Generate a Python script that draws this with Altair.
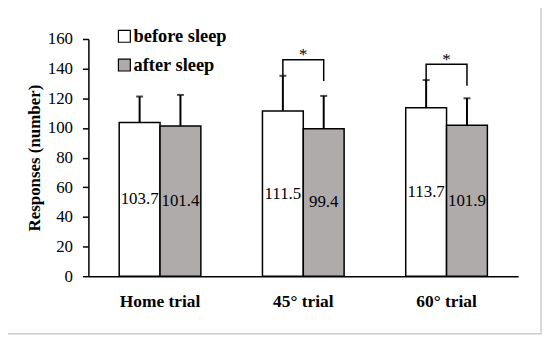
import altair as alt
import pandas as pd

trials = ["Home trial", "45° trial", "60° trial"]
groups = ["before sleep", "after sleep"]
before_means = [103.7, 111.5, 113.7]
after_means = [101.4, 99.4, 101.9]
before_sd = [17.5, 23.7, 18.6]
after_sd = [20.9, 22.2, 18.1]
y_ticks = [0, 20, 40, 60, 80, 100, 120, 140, 160]

# significance brackets (45° and 60° trials)
sig_trials = ["45° trial", "60° trial"]
sig_top = [146.0, 143.0]
sig_right_bottom = [131.7, 128.5]
sig_star = [149.0, 146.0]

rows = []
for i, t in enumerate(trials):
    rows.append({"trial": t, "group": groups[0], "mean": before_means[i],
                 "upper": before_means[i] + before_sd[i], "label": f"{before_means[i]:.1f}"})
    rows.append({"trial": t, "group": groups[1], "mean": after_means[i],
                 "upper": after_means[i] + after_sd[i], "label": f"{after_means[i]:.1f}"})
df = pd.DataFrame(rows)
df["half"] = df["mean"] / 2

brows = []
stars = []
for j, t in enumerate(sig_trials):
    i = trials.index(t)
    left_bottom = before_means[i] + before_sd[i]
    pts = [(groups[0], left_bottom), (groups[0], sig_top[j]),
           (groups[1], sig_top[j]), (groups[1], sig_right_bottom[j])]
    for k, (g, v) in enumerate(pts):
        brows.append({"trial": t, "group": g, "y": v, "ord": k, "id": t})
    stars.append({"trial": t, "y": sig_star[j], "s": "*"})
bdf = pd.DataFrame(brows)
sdf = pd.DataFrame(stars)

FONT = "Liberation Serif"

xscale = alt.Scale(domain=trials, paddingInner=0.43, paddingOuter=0.215)
xoff = alt.Scale(domain=groups, paddingInner=0, paddingOuter=0)
yscale = alt.Scale(domain=[0, 160], nice=False)

yaxis = alt.Axis(title="Responses (number)", values=y_ticks, labelOverlap=False,
                 grid=False, tickSize=6, tickColor="black", tickWidth=1.5,
                 domainColor="black", domainWidth=1.5, labelPadding=10,
                 labelFont=FONT, labelFontSize=17, labelColor="black",
                 titleFont=FONT, titleFontSize=17, titleFontWeight="bold",
                 titleColor="black", titleX=-54, titleY=119.5,
                 titleBaseline="middle", titleAngle=-90)
xaxis = alt.Axis(title=None, labelAngle=0, ticks=False, tickSize=0,
                 labelPadding=17, labelFont=FONT, labelFontWeight="bold",
                 labelFontSize=17.5, labelColor="black", domainColor="black",
                 domainWidth=1.5)


def X():
    return alt.X("trial:N", scale=xscale, sort=trials, axis=xaxis)


def XO():
    return alt.XOffset("group:N", scale=xoff, sort=groups)


def Y(field):
    return alt.Y(field, scale=yscale, axis=yaxis)


base = alt.Chart(df)

bars = base.mark_bar(stroke="black", strokeWidth=1.5).encode(
    x=X(), xOffset=XO(), y=Y("mean:Q"),
    color=alt.Color("group:N", sort=groups,
                    scale=alt.Scale(domain=groups, range=["#ffffff", "#afabab"]),
                    legend=alt.Legend(title=None, orient="none", legendX=27, legendY=-12,
                                      symbolType="square", symbolSize=144,
                                      symbolStrokeColor="black", symbolStrokeWidth=1.2,
                                      labelFont=FONT, labelFontSize=18.5,
                                      labelFontWeight="bold", labelColor="black",
                                      labelOffset=0, rowPadding=10, padding=0)),
)

err = base.mark_rule(color="black", strokeWidth=2).encode(
    x=X(), xOffset=XO(), y=Y("mean:Q"), y2="upper:Q")

caps = base.mark_tick(color="black", thickness=2, size=7, orient="horizontal").encode(
    x=X(), xOffset=XO(), y=Y("upper:Q"))

labels = base.mark_text(font=FONT, fontSize=17, color="black", baseline="middle").encode(
    x=X(), xOffset=XO(), y=Y("half:Q"), text="label:N")

brackets = alt.Chart(bdf).mark_line(color="black", strokeWidth=1.5).encode(
    x=X(), xOffset=XO(), y=Y("y:Q"), detail="id:N", order="ord:Q")

starmarks = alt.Chart(sdf).mark_text(font=FONT, fontSize=17, color="black",
                                     baseline="middle").encode(
    x=X(), y=Y("y:Q"), text="s:N")

frame = alt.Chart(pd.DataFrame({"a": [0]})).mark_rect(
    fill=None, stroke="#cccccc", strokeWidth=1.5).encode(
    x=alt.value(-86), x2=alt.value(456), y=alt.value(-35), y2=alt.value(297))

chart = alt.layer(bars, err, caps, labels, brackets, starmarks, frame).properties(
    width=433, height=239,
    autosize=alt.AutoSizeParams(type="none"),
    padding={"left": 81, "top": 30, "right": 24, "bottom": 60},
).configure_view(stroke=None)

chart.save("out.html", embed_options={"renderer": "svg", "actions": False})
